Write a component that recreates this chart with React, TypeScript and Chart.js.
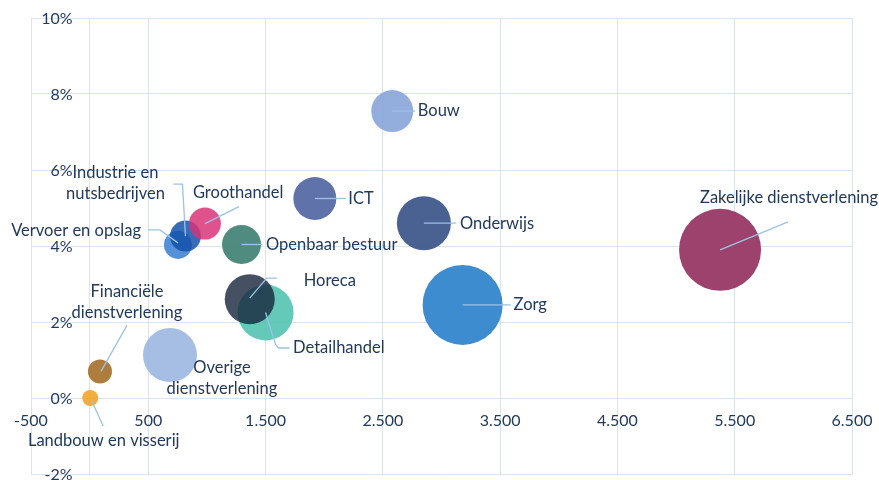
import React, { useEffect, useRef } from 'react';
import { Chart, registerables } from 'chart.js';

Chart.register(...registerables);

// ---- data ----
const sectors = [
  'Landbouw en visserij',
  'Financiële dienstverlening',
  'Overige dienstverlening',
  'Vervoer en opslag',
  'Industrie en nutsbedrijven',
  'Groothandel',
  'Openbaar bestuur',
  'Detailhandel',
  'Horeca',
  'ICT',
  'Bouw',
  'Onderwijs',
  'Zorg',
  'Zakelijke dienstverlening',
];
const growthAbs = [5, 88, 685, 753, 817, 983, 1295, 1500, 1365, 1920, 2580, 2850, 3180, 5375];
const growthPct = [0.0, 0.7, 1.13, 4.03, 4.26, 4.59, 4.04, 2.25, 2.6, 5.25, 7.55, 4.6, 2.45, 3.9];
const bubbleSize = [3.8, 8.6, 43.4, 11.7, 14.3, 15.2, 22.6, 46.6, 37.2, 27.5, 26.2, 43.4, 95.2, 100];
const xTickLabels = [-500, 500, 1500, 2500, 3500, 4500, 5500, 6500];
const xGridValues = [-500, 0, 500, 1500, 2500, 3500, 4500, 5500, 6500];
const yTickLabels = [-2, 0, 2, 4, 6, 8, 10];

// ---- styles ----
const bubbleColors = [
  'rgba(240,166,46,0.92)',
  'rgba(166,114,48,0.92)',
  'rgba(160,185,226,0.92)',
  'rgba(66,132,212,0.9)',
  'rgba(20,82,172,0.85)',
  'rgba(218,52,120,0.85)',
  'rgba(70,134,120,0.95)',
  'rgba(88,196,180,0.92)',
  'rgba(22,38,60,0.8)',
  'rgba(86,106,164,0.95)',
  'rgba(138,166,218,0.92)',
  'rgba(64,90,140,0.95)',
  'rgba(52,134,206,0.95)',
  'rgba(152,56,100,0.95)',
];
const labelLayout = [
  { lines: ['Landbouw en visserij'], align: 'center', dx: 13.5, dy: 42.5, leader: [[1, 2], [13, 28]] },
  { lines: ['Financiële', 'dienstverlening'], align: 'center', dx: 27, dy: -79.5, leader: [[1, 0], [27, -46]] },
  { lines: ['Overige', 'dienstverlening'], align: 'center', dx: 52, dy: 13, leader: [] },
  { lines: ['Vervoer en opslag'], align: 'right', dx: -37, dy: -14, leader: [[-30, -15], [-18, -15], [0, -2]] },
  { lines: ['Industrie en', 'nutsbedrijven'], align: 'center', dx: -70, dy: -63, leader: [[-12, -52], [-3, -52], [0, 0]] },
  { lines: ['Groothandel'], align: 'left', dx: -12, dy: -30.5, leader: [[0, 0], [34, -17]] },
  { lines: ['Openbaar bestuur'], align: 'left', dx: 24.5, dy: 0, leader: [[0, 0], [21, 0]] },
  { lines: ['Detailhandel'], align: 'left', dx: 27.5, dy: 35.5, leader: [[0, 0], [10, 32], [13, 35.5], [24, 35.5]] },
  { lines: ['Horeca'], align: 'left', dx: 54, dy: -19, leader: [[0, -1], [17, -21], [27, -21]] },
  { lines: ['ICT'], align: 'left', dx: 33.5, dy: 0, leader: [[0, 0], [31, 0]] },
  { lines: ['Bouw'], align: 'left', dx: 25.5, dy: 0, leader: [[0, 0], [23, 0]] },
  { lines: ['Onderwijs'], align: 'left', dx: 36, dy: 0, leader: [[0, 0], [32, 0]] },
  { lines: ['Zorg'], align: 'left', dx: 51, dy: 0, leader: [[0, 0], [48, 0]] },
  { lines: ['Zakelijke dienstverlening'], align: 'center', dx: 69, dy: -52.5, leader: [[0, 0], [68, -28]] },
];

const FONT = '16.5px Lato, "Open Sans", sans-serif';
const TICK_FONT = '16px Lato, "Open Sans", sans-serif';
const TEXT_COLOR = '#22395a';
const LEADER_COLOR = '#9cc2e5';
const GRID_COLOR = '#d8e5f0';
const LINE_H = 21;

function fmtThousands(v: number): string {
  const s = Math.abs(v).toString().replace(/\B(?=(\d{3})+(?!\d))/g, '.');
  return (v < 0 ? '-' : '') + s;
}

const axisLabelPlugin = {
  id: 'axisLabels',
  afterDraw(chart: any) {
    const { ctx, scales } = chart;
    const xs = scales.x;
    const ys = scales.y;
    const x0 = xs.getPixelForValue(0);
    const y0 = ys.getPixelForValue(0);
    ctx.save();
    ctx.font = TICK_FONT;
    ctx.fillStyle = TEXT_COLOR;
    ctx.textBaseline = 'middle';
    ctx.textAlign = 'right';
    yTickLabels.forEach((v) => {
      ctx.fillText(v + '%', x0 - 17, ys.getPixelForValue(v) + 1);
    });
    ctx.textAlign = 'center';
    xTickLabels.forEach((v) => {
      ctx.fillText(fmtThousands(v), xs.getPixelForValue(v), y0 + 23);
    });
    ctx.restore();
  },
};

const dataLabelPlugin = {
  id: 'dataLabels',
  afterDatasetsDraw(chart: any) {
    const { ctx } = chart;
    const meta = chart.getDatasetMeta(0);
    ctx.save();
    ctx.strokeStyle = LEADER_COLOR;
    ctx.lineWidth = 1.3;
    meta.data.forEach((el: any, i: number) => {
      const lay = labelLayout[i];
      if (!lay || lay.leader.length < 2) return;
      ctx.beginPath();
      lay.leader.forEach((p: number[], k: number) => {
        const px = el.x + p[0];
        const py = el.y + p[1];
        if (k === 0) ctx.moveTo(px, py);
        else ctx.lineTo(px, py);
      });
      ctx.stroke();
    });
    ctx.font = FONT;
    ctx.fillStyle = TEXT_COLOR;
    ctx.textBaseline = 'middle';
    meta.data.forEach((el: any, i: number) => {
      const lay = labelLayout[i];
      if (!lay) return;
      ctx.textAlign = lay.align;
      lay.lines.forEach((line: string, k: number) => {
        ctx.fillText(line, el.x + lay.dx, el.y + lay.dy + k * LINE_H);
      });
    });
    ctx.restore();
  },
};

export default function App() {
  const canvasRef = useRef<HTMLCanvasElement | null>(null);

  useEffect(() => {
    if (!canvasRef.current) return;
    const points = sectors.map((_, i) => ({
      x: growthAbs[i],
      y: growthPct[i],
      r: 4.1 * Math.sqrt(bubbleSize[i]),
    }));
    const chart = new Chart(canvasRef.current, {
      type: 'bubble',
      data: {
        labels: sectors,
        datasets: [
          {
            label: 'Sectoren',
            data: points,
            backgroundColor: bubbleColors,
            borderWidth: 0,
            hoverBorderWidth: 0,
            clip: false,
          },
        ],
      },
      options: {
        animation: false,
        responsive: true,
        maintainAspectRatio: false,
        layout: { autoPadding: false, padding: { left: 31, right: 27, top: 18, bottom: 6 } },
        plugins: {
          legend: { display: false },
          tooltip: { enabled: false },
        },
        scales: {
          x: {
            type: 'linear',
            min: -500,
            max: 6500,
            afterBuildTicks: (scale: any) => {
              scale.ticks = xGridValues.map((v) => ({ value: v }));
            },
            ticks: { display: false },
            grid: { color: GRID_COLOR, drawTicks: false, lineWidth: 1 },
            border: { display: false },
          },
          y: {
            type: 'linear',
            min: -2,
            max: 10,
            afterBuildTicks: (scale: any) => {
              scale.ticks = yTickLabels.map((v) => ({ value: v }));
            },
            ticks: { display: false },
            grid: { color: GRID_COLOR, drawTicks: false, lineWidth: 1 },
            border: { display: false },
          },
        },
      },
      plugins: [axisLabelPlugin, dataLabelPlugin],
    } as any);
    return () => chart.destroy();
  }, []);

  return (
    <div style={{ position: 'absolute', left: 0, top: 0, width: 879, height: 480, background: '#fff' }}>
      <canvas ref={canvasRef} />
    </div>
  );
}
